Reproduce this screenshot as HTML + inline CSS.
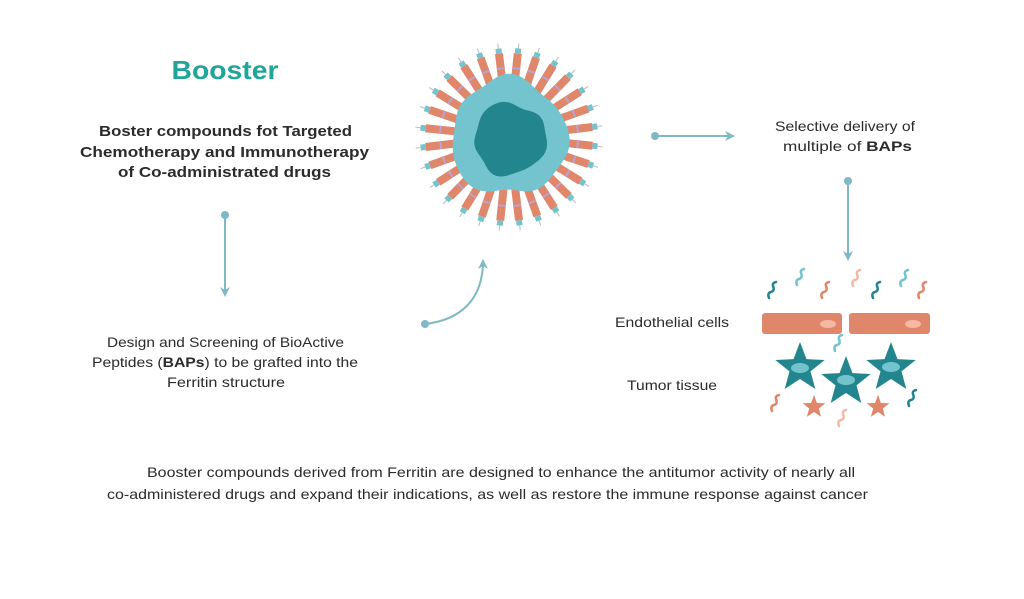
<!DOCTYPE html>
<html><head><meta charset="utf-8"><style>
html,body{margin:0;padding:0;background:#fff;}
svg{display:block;}
text{font-family:"Liberation Sans",sans-serif;fill:#2b2b2b;}
</style></head><body>
<svg id="s" width="1024" height="599" viewBox="0 0 1024 599" xmlns="http://www.w3.org/2000/svg">
<defs>
<marker id="ah" markerWidth="10" markerHeight="10" refX="8" refY="5" orient="auto" markerUnits="userSpaceOnUse">
<path d="M0,0 L10,5 L0,10 L3,5 Z" fill="#7fb8c6"/></marker>
</defs>
<text x="225" y="79" text-anchor="middle" font-size="26" font-weight="bold" style="fill:#1fa59a" textLength="107" lengthAdjust="spacingAndGlyphs">Booster</text>
<g font-size="15" font-weight="bold" text-anchor="middle">
<text x="225.5" y="136" textLength="253" lengthAdjust="spacingAndGlyphs">Boster compounds fot Targeted</text>
<text x="224.5" y="157" textLength="289" lengthAdjust="spacingAndGlyphs">Chemotherapy and Immunotherapy</text>
<text x="224.5" y="177" textLength="213" lengthAdjust="spacingAndGlyphs">of Co-administrated drugs</text>
</g>
<g font-size="14" text-anchor="middle">
<text x="225.5" y="347" textLength="237" lengthAdjust="spacingAndGlyphs">Design and Screening of BioActive</text>
<text x="225" y="367" textLength="266" lengthAdjust="spacingAndGlyphs">Peptides (<tspan font-weight="bold">BAPs</tspan>) to be grafted into the</text>
<text x="226" y="387" textLength="118" lengthAdjust="spacingAndGlyphs">Ferritin structure</text>
<text x="845" y="131" textLength="140" lengthAdjust="spacingAndGlyphs">Selective delivery of</text>
<text x="847.5" y="151" textLength="129" lengthAdjust="spacingAndGlyphs">multiple of <tspan font-weight="bold">BAPs</tspan></text>
<text x="672" y="327" textLength="114" lengthAdjust="spacingAndGlyphs">Endothelial cells</text>
<text x="672" y="390" textLength="90" lengthAdjust="spacingAndGlyphs">Tumor tissue</text>
<text x="501" y="477" textLength="708" lengthAdjust="spacingAndGlyphs">Booster compounds derived from Ferritin are designed to enhance the antitumor activity of nearly all</text>
<text x="487.5" y="499" textLength="761" lengthAdjust="spacingAndGlyphs">co-administered drugs and expand their indications, as well as restore the immune response against cancer</text>
</g>
<g stroke="#7fb8c6" stroke-width="2" fill="none">
<line x1="225" y1="216" x2="225" y2="295" marker-end="url(#ah)"/>
<path d="M425,324 C460,320 483,300 483,261" marker-end="url(#ah)"/>
<line x1="655" y1="136" x2="733" y2="136" marker-end="url(#ah)"/>
<line x1="848" y1="182" x2="848" y2="259" marker-end="url(#ah)"/>
</g>
<g fill="#7fb8c6">
<circle cx="225" cy="215" r="4"/><circle cx="425" cy="324" r="4"/>
<circle cx="655" cy="136" r="4"/><circle cx="848" cy="181" r="4"/>
</g>
<g id="spikes"></g>
<path id="outer" fill="#74c4cf"/>
<path id="inner" fill="#23868f"/>
<rect x="762" y="313" width="80" height="21" rx="3" fill="#e0866a"/>
<rect x="849" y="313" width="81" height="21" rx="3" fill="#e0866a"/>
<ellipse cx="828" cy="324" rx="8" ry="4" fill="#f5b9a3"/>
<ellipse cx="913" cy="324" rx="8" ry="4" fill="#f5b9a3"/>
<g id="stars"></g>
<g id="squig" fill="none" stroke-width="2.5" stroke-linecap="round"></g>
</svg>
<script>
var ns="http://www.w3.org/2000/svg";
var sp=document.getElementById("spikes");
var cx=509,cy=137,n=28;
for(var i=0;i<n;i++){
 var a=i*360/n+6;
 var g=document.createElementNS(ns,"g");
 g.setAttribute("transform","translate("+cx+","+cy+") rotate("+a+")");
 g.innerHTML='<rect x="50" y="-4" width="34" height="8" fill="#e0866a"/><rect x="68" y="-4" width="2" height="8" fill="#b9a3d0"/><rect x="84" y="-3" width="5" height="6" fill="#74c4cf"/><line x1="89" y1="0" x2="94" y2="0" stroke="#bbb" stroke-width="1"/>';
 sp.appendChild(g);
}
function blob(x,y,R,ph){var d="";for(var k=0;k<=72;k++){var t=k*Math.PI*2/72;var r=R*(1+0.05*Math.sin(3*t+ph)+0.035*Math.cos(5*t+ph*2)+0.02*Math.sin(7*t));d+=(k?"L":"M")+(x+r*Math.cos(t)).toFixed(1)+","+(y+r*Math.sin(t)).toFixed(1);}return d+"Z";}
document.getElementById("outer").setAttribute("d",blob(cx,cy,58,0.5));
document.getElementById("inner").setAttribute("d",blob(cx+1,cy+2,36,1.7));
function star(x,y,R,r,fill){
 var p="";for(var k=0;k<10;k++){var rr=k%2?r:R;var t=Math.PI*k/5-Math.PI/2;p+=(k?"L":"M")+(x+rr*Math.cos(t)).toFixed(1)+","+(y+rr*Math.sin(t)).toFixed(1);}
 return '<path d="'+p+'Z" fill="'+fill+'" stroke-linejoin="round"/>';
}
var st=document.getElementById("stars");
st.innerHTML=star(800,368,26,11,"#23868f")+star(846,382,26,11,"#23868f")+star(891,368,26,11,"#23868f")+
'<ellipse cx="800" cy="368" rx="9" ry="5" fill="#74c4cf"/><ellipse cx="846" cy="380" rx="9" ry="5" fill="#74c4cf"/><ellipse cx="891" cy="367" rx="9" ry="5" fill="#74c4cf"/>'+
star(814,407,12,5,"#e0866a")+star(878,407,12,5,"#e0866a");
var sq=document.getElementById("squig");
var q=[[772,292,"#23868f"],[800,279,"#74c4cf"],[825,292,"#e0866a"],[856,280,"#f5b9a3"],[876,292,"#23868f"],[904,280,"#74c4cf"],[922,292,"#e0866a"],[838,345,"#74c4cf"],[775,405,"#e0866a"],[912,400,"#23868f"],[842,420,"#f5b9a3"]];
q.forEach(function(o){var x=o[0],y=o[1];
 var p=document.createElementNS(ns,"path");
 p.setAttribute("d","M"+(x-3)+","+(y+6)+" q-2,-5 2,-6 q4,-1 2,-6 q-1,-3 3,-4");
 p.setAttribute("stroke",o[2]);sq.appendChild(p);});
</script>
</body></html>
